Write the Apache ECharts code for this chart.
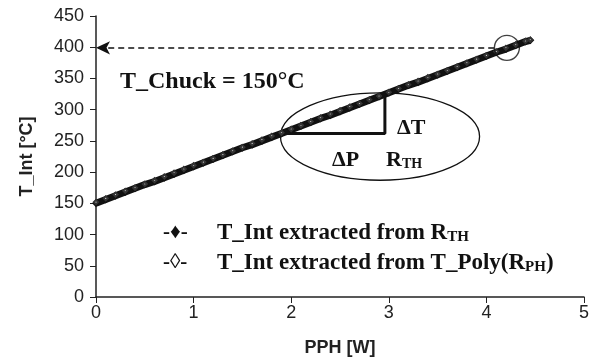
<!DOCTYPE html>
<html>
<head>
<meta charset="utf-8">
<script src="https://cdn.jsdelivr.net/npm/echarts@6/dist/echarts.min.js"></script>
<style>
  html, body { margin: 0; padding: 0; background: #fff; }
  #main { width: 600px; height: 362px; }
</style>
</head>
<body>
<div id="main"></div>
<script>
// PPH [W] values
var pph = [0, 0.1, 0.2, 0.3, 0.4, 0.5, 0.6, 0.7, 0.8, 0.9, 1.0, 1.1, 1.2, 1.3, 1.4, 1.5,
    1.6, 1.7, 1.8, 1.9, 2.0, 2.1, 2.2, 2.3, 2.4, 2.5, 2.6, 2.7, 2.8, 2.9, 3.0, 3.1,
    3.2, 3.3, 3.4, 3.5, 3.6, 3.7, 3.8, 3.9, 4.0, 4.1, 4.2, 4.3, 4.4, 4.45];
// T_Int extracted from R_TH
var tIntRth = [150, 156, 162, 168, 174, 180, 185, 191, 197, 203, 209, 215, 221, 227, 233, 239,
    244, 250, 256, 262, 268, 274, 280, 286, 291, 297, 303, 309, 315, 321, 327, 333,
    339, 344, 350, 356, 362, 368, 374, 380, 386, 392, 397, 403, 409, 411];
// T_Int extracted from T_Poly(R_PH)
var tIntPoly = [152, 158, 164, 170, 175, 181, 187, 193, 199, 205, 211, 216, 222, 228, 234, 240,
    246, 252, 258, 263, 269, 275, 281, 287, 293, 299, 305, 310, 316, 322, 328, 334,
    340, 346, 352, 357, 363, 369, 375, 381, 387, 393, 399, 404, 410, 412];
// annotations
var markPoint = [4.21, 399];
var triangle = [[1.9, 262], [2.96, 262], [2.96, 325]];
var ellipse = { cx: 2.91, cy: 257, rx: 1.02, ry: 70 };

var xTicks = [0, 1, 2, 3, 4, 5];
var yTicks = [0, 50, 100, 150, 200, 250, 300, 350, 400, 450];

function pairs(xs, ys) {
    return xs.map(function (x, i) { return [x, ys[i]]; });
}

var serif = '"Liberation Serif", "DejaVu Serif", serif';
var sans = '"Liberation Sans", Arial, sans-serif';

var myChart = echarts.init(document.getElementById('main'));
var option = {
    animation: false,
    grid: { left: 96, right: 16, top: 16, bottom: 62 },
    xAxis: {
        type: 'value',
        min: xTicks[0],
        max: xTicks[xTicks.length - 1],
        interval: 1,
        name: 'PPH [W]',
        nameLocation: 'middle',
        nameGap: 42,
        nameTextStyle: { fontFamily: sans, fontWeight: 'bold', fontSize: 18, color: '#222' },
        axisLine: { lineStyle: { color: '#222', width: 1.5 } },
        axisTick: { show: true, length: 6, lineStyle: { color: '#222' } },
        axisLabel: { fontFamily: sans, fontSize: 18, color: '#222', margin: 7 },
        splitLine: { show: false }
    },
    yAxis: {
        type: 'value',
        min: yTicks[0],
        max: yTicks[yTicks.length - 1],
        interval: 50,
        name: 'T_Int [°C]',
        nameLocation: 'middle',
        nameGap: 60,
        nameTextStyle: { fontFamily: sans, fontWeight: 'bold', fontSize: 18, color: '#222' },
        axisLine: { show: true, lineStyle: { color: '#222', width: 1.5 } },
        axisTick: { show: true, length: 6, lineStyle: { color: '#222' } },
        axisLabel: { fontFamily: sans, fontSize: 18, color: '#222', margin: 12 },
        splitLine: { show: false }
    },
    series: [
        {
            name: 'T_Int extracted from R_TH',
            type: 'line',
            data: pairs(pph, tIntRth),
            symbol: 'diamond',
            symbolSize: 8,
            itemStyle: { color: '#111' },
            lineStyle: { color: '#111', width: 7 },
            z: 3
        },
        {
            name: 'T_Int extracted from T_Poly(R_PH)',
            type: 'line',
            data: pairs(pph, tIntPoly),
            symbol: 'emptyDiamond',
            symbolSize: 4,
            itemStyle: { color: '#333', borderWidth: 1 },
            lineStyle: { width: 0 },
            z: 4
        },
        {
            name: 'triangle',
            type: 'line',
            data: triangle,
            symbol: 'none',
            lineStyle: { color: '#111', width: 3 },
            z: 2
        },
        {
            name: 'circle',
            type: 'scatter',
            data: [markPoint],
            symbol: 'circle',
            symbolSize: 25,
            itemStyle: { color: 'rgba(0,0,0,0)', borderColor: '#111', borderWidth: 1.4 },
            z: 5,
            markLine: {
                silent: true,
                symbol: ['none', 'arrow'],
                symbolSize: [10, 14],
                label: { show: false },
                lineStyle: { color: '#111', type: [6, 4], width: 1.5 },
                data: [[{ coord: [markPoint[0] - 0.13, markPoint[1]] }, { coord: [0, markPoint[1]] }]]
            }
        }
    ]
};
myChart.setOption(option);

// ellipse + texts
var c = myChart.convertToPixel({ gridIndex: 0 }, [ellipse.cx, ellipse.cy]);
var e = myChart.convertToPixel({ gridIndex: 0 }, [ellipse.cx + ellipse.rx, ellipse.cy + ellipse.ry]);
function label(x, y, text, size) {
    size = size || 22;
    return {
        type: 'text', x: x, y: y, z: 10,
        style: {
            text: text, fontFamily: serif, fontWeight: 'bold', fontSize: size, fill: '#111',
            verticalAlign: 'middle',
            rich: {
                n: { fontFamily: serif, fontWeight: 'bold', fontSize: size, fill: '#111' },
                s: { fontFamily: serif, fontWeight: 'bold', fontSize: Math.round(size * 0.65), fill: '#111', padding: [Math.round(size * 0.35), 0, 0, 0] }
            }
        }
    };
}
myChart.setOption({
    graphic: [
        {
            type: 'ellipse',
            shape: { cx: c[0], cy: c[1], rx: e[0] - c[0], ry: c[1] - e[1] },
            style: { fill: 'none', stroke: '#111', lineWidth: 1.3 },
            z: 1
        },
        label(120, 82, 'T_Chuck = 150°C', 24),
        label(397, 128, 'ΔT'),
        label(332, 160, 'ΔP'),
        label(386, 160, '{n|R}{s|TH}'),
        label(163, 233, '-♦-', 21),
        label(163, 263, '-◊-', 21),
        label(217, 233, '{n|T_Int extracted from R}{s|TH}', 23),
        label(217, 263, '{n|T_Int extracted from T_Poly(R}{s|PH}{n|)}', 23)
    ]
});
</script>
</body>
</html>
